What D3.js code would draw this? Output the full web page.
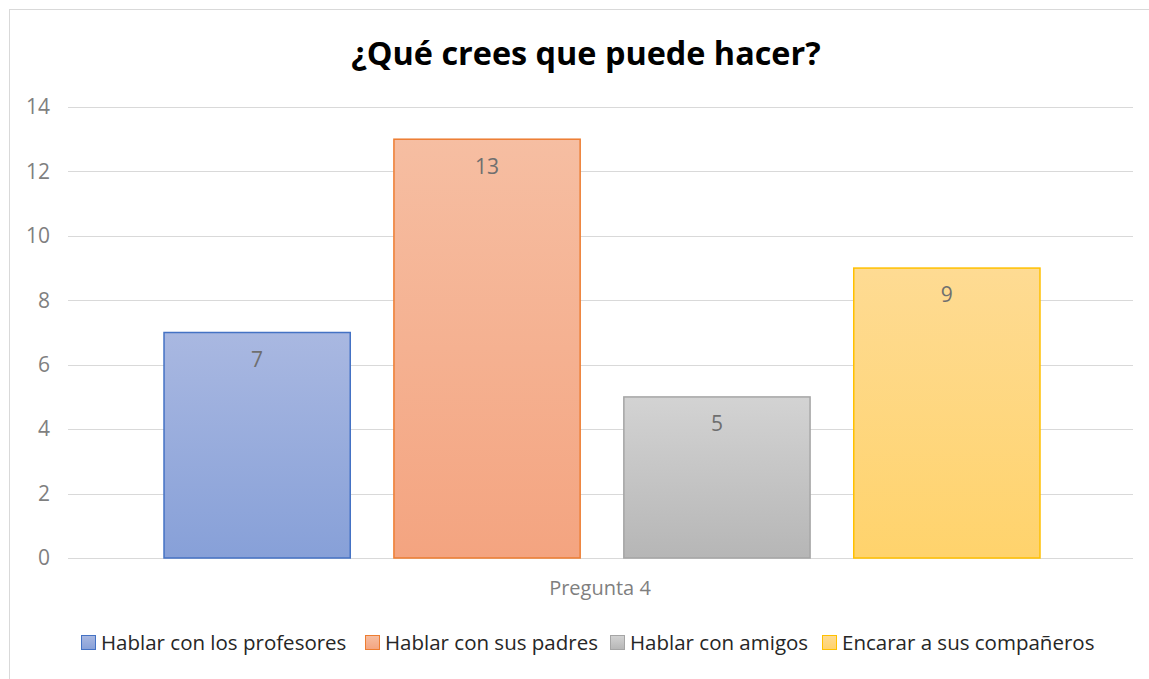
<!DOCTYPE html>
<html lang="es">
<head>
  <meta charset="utf-8">
  <script src="https://d3js.org/d3.v7.min.js"></script>
  <style>
    body { margin: 0; background: #fff; }
    text { font-family: "Open Sans", sans-serif; }
  </style>
</head>
<body>
<svg width="1149" height="679"></svg>
<script>
  // data
  var categories = ["Pregunta 4"];
  var series = ["Hablar con los profesores", "Hablar con sus padres", "Hablar con amigos", "Encarar a sus compañeros"];
  var values = [7, 13, 5, 9];
  var yTicks = [0, 2, 4, 6, 8, 10, 12, 14];

  var strokes = ["#4472c4", "#ed7d31", "#a5a5a5", "#ffc000"];
  var topCol = ["#a9b8e1", "#f6bea2", "#d3d3d3", "#fedb93"];
  var botCol = ["#87a0d8", "#f4a480", "#b6b6b6", "#ffd36c"];

  var svg = d3.select("svg"),
    width = +svg.attr("width"),
    height = +svg.attr("height");

  var plotL = 68, plotR = 1133, plotT = 107, plotB = 558;

  // chart border (only top / left visible in frame)
  svg.append("rect")
    .attr("x", 9.5).attr("y", 9.5)
    .attr("width", width).attr("height", height)
    .attr("fill", "#fff").attr("stroke", "#d9d9d9");

  var defs = svg.append("defs");
  series.forEach(function(s, i) {
    var g = defs.append("linearGradient").attr("id", "grad" + i)
      .attr("x1", 0).attr("y1", 0).attr("x2", 0).attr("y2", 1);
    g.append("stop").attr("offset", "0%").attr("stop-color", topCol[i]);
    g.append("stop").attr("offset", "100%").attr("stop-color", botCol[i]);
  });

  var y = d3.scaleLinear().domain([0, 14]).range([plotB, plotT]);
  var x0 = d3.scaleBand().domain(categories).range([plotL, plotR + 3]).padding(0);
  var x1 = d3.scaleBand().domain(series).range([0, x0.bandwidth()])
    .paddingInner(0.19).paddingOuter(0.4176);

  // gridlines
  svg.append("g").selectAll("line")
    .data(yTicks)
    .enter().append("line")
    .attr("x1", plotL).attr("x2", plotR)
    .attr("y1", function(d) { return Math.round(y(d)) + 0.5; })
    .attr("y2", function(d) { return Math.round(y(d)) + 0.5; })
    .attr("stroke", "#d9d9d9").attr("stroke-width", 1);

  // y labels
  svg.append("g").selectAll("text")
    .data(yTicks)
    .enter().append("text")
    .attr("x", 50).attr("y", function(d) { return y(d); })
    .attr("dy", "0.35em")
    .attr("text-anchor", "end")
    .attr("font-size", 21)
    .attr("fill", "#7f7f7f")
    .text(function(d) { return d; });

  // bars
  var groups = svg.append("g").selectAll("g")
    .data(categories)
    .enter().append("g")
    .attr("transform", function(d) { return "translate(" + x0(d) + ",0)"; });

  var rows = series.map(function(s, i) { return {s: s, v: values[i], i: i}; });

  groups.selectAll("rect")
    .data(rows)
    .enter().append("rect")
    .attr("x", function(d) { return x1(d.s); })
    .attr("y", function(d) { return y(d.v); })
    .attr("width", x1.bandwidth())
    .attr("height", function(d) { return y(0) - y(d.v); })
    .attr("fill", function(d) { return "url(#grad" + d.i + ")"; })
    .attr("stroke", function(d) { return strokes[d.i]; })
    .attr("stroke-width", 1.5);

  groups.selectAll("text")
    .data(rows)
    .enter().append("text")
    .attr("x", function(d) { return x1(d.s) + x1.bandwidth() / 2; })
    .attr("y", function(d) { return y(d.v) + 27; })
    .attr("dy", "0.35em")
    .attr("text-anchor", "middle")
    .attr("font-size", 21)
    .attr("fill", "#6f6f6f")
    .text(function(d) { return d.v; });

  // category label
  svg.append("g").selectAll("text")
    .data(categories)
    .enter().append("text")
    .attr("x", 600)
    .attr("y", 588)
    .attr("dy", "0.35em")
    .attr("text-anchor", "middle")
    .attr("font-size", 20)
    .attr("fill", "#7f7f7f")
    .text(function(d) { return d; });

  // title
  svg.append("text")
    .attr("x", 586).attr("y", 65)
    .attr("text-anchor", "middle")
    .attr("font-size", 32.4)
    .attr("font-weight", "bold")
    .attr("fill", "#000")
    .text("¿Qué crees que puede hacer?");

  // legend
  var legendX = [81, 365, 610, 822];
  var legend = svg.append("g").selectAll("g")
    .data(series)
    .enter().append("g")
    .attr("transform", function(d, i) { return "translate(" + legendX[i] + ",643)"; });
  legend.append("rect")
    .attr("x", 0.5).attr("y", -7.5)
    .attr("width", 14).attr("height", 14)
    .attr("fill", function(d, i) { return "url(#grad" + i + ")"; })
    .attr("stroke", function(d, i) { return strokes[i]; });
  legend.append("text")
    .attr("x", 20).attr("y", 0)
    .attr("dy", "0.35em")
    .attr("font-size", 20.5)
    .attr("fill", "#262626")
    .text(function(d) { return d; });
</script>
</body>
</html>
